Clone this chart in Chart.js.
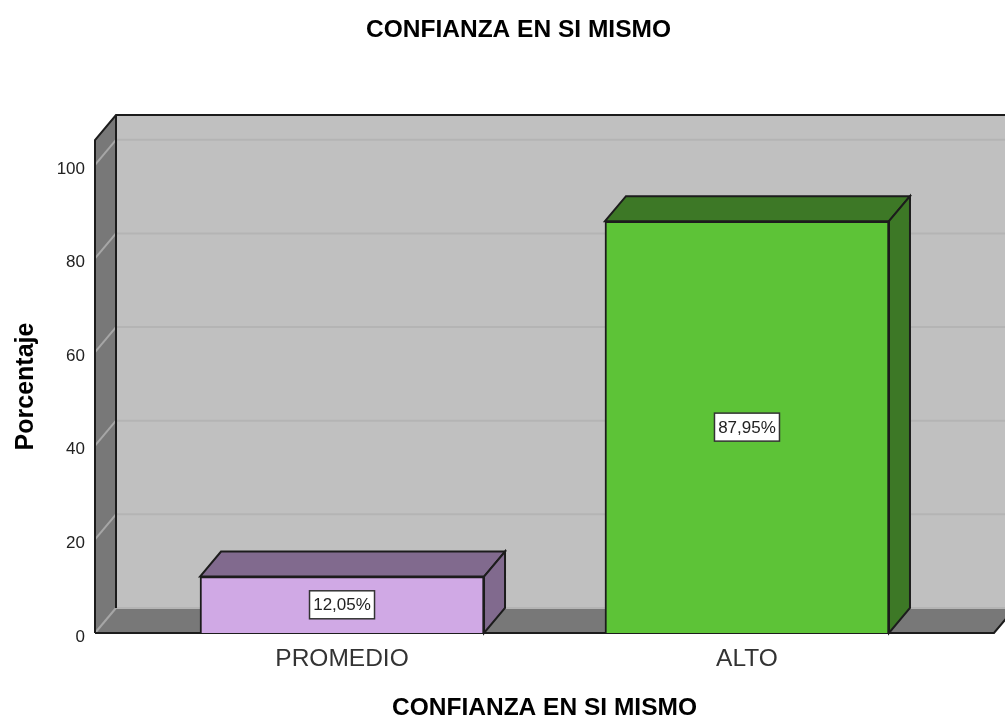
<!DOCTYPE html>
<html>
<head>
<meta charset="utf-8">
<style>
    html, body { margin: 0; padding: 0; background: #fff; overflow: hidden; }
    canvas { display: block; }
</style>
<script src="https://cdn.jsdelivr.net/npm/chart.js@4"></script>
</head>
<body>
<canvas id="grafico" width="1005" height="720"></canvas>
<script>
/* Dados */
const categorias = ['PROMEDIO', 'ALTO'];
const porcentajes = [12.05, 87.95];
const rotulos = ['12,05%', '87,95%'];
const coresFrente = ['#D0A9E5', '#5DC337'];
const coresFundo = ['#816A8E', '#3D7826'];
const tituloTexto = 'CONFIANZA EN SI MISMO';
const tituloY = 'Porcentaje';

/* Profundidade do efeito 3D, em pixels */
const DX = 21;
const DY = 25;
const LINHA = '#1c1c1c';
const FONTE = '"Liberation Sans", Arial, sans-serif';

function poligono(ctx, pts, fill) {
    ctx.beginPath();
    pts.forEach((p, i) => i ? ctx.lineTo(p[0], p[1]) : ctx.moveTo(p[0], p[1]));
    ctx.closePath();
    if (fill) {
        ctx.fillStyle = fill;
        ctx.fill();
    }
}

const caixa3d = {
    id: 'caixa3d',
    afterLayout(chart) {
        // o título do original não fica centrado na página
        chart.titleBlock.left = 32;
        chart.titleBlock.right = chart.width;
    },
    beforeDatasetsDraw(chart) {
        const { ctx } = chart;
        const { x, y } = chart.scales;
        const l = x.left, r = x.right, t = y.top, b = y.bottom;
        ctx.save();

        /* paredes e chão */
        poligono(ctx, [[l + DX, t - DY], [r + DX, t - DY], [r + DX, b - DY], [l + DX, b - DY]], '#C0C0C0');
        poligono(ctx, [[l, t], [l + DX, t - DY], [l + DX, b - DY], [l, b]], '#787878');
        poligono(ctx, [[l, b], [l + DX, b - DY], [r + DX, b - DY], [r, b]], '#787878');

        /* grade */
        ctx.lineWidth = 2;
        y.ticks.forEach(tk => {
            const py = y.getPixelForValue(tk.value);
            ctx.strokeStyle = '#B4B4B4';
            ctx.beginPath();
            ctx.moveTo(l + DX, py - DY);
            ctx.lineTo(r + DX, py - DY);
            ctx.stroke();
            ctx.strokeStyle = '#A6A6A6';
            ctx.beginPath();
            ctx.moveTo(l, py);
            ctx.lineTo(l + DX, py - DY);
            ctx.stroke();
        });

        /* contornos */
        ctx.strokeStyle = LINHA;
        ctx.beginPath();
        ctx.moveTo(l, b);
        ctx.lineTo(l, t);
        ctx.lineTo(l + DX, t - DY);
        ctx.lineTo(r + DX, t - DY);
        ctx.moveTo(l + DX, t - DY);
        ctx.lineTo(l + DX, b - DY);
        ctx.moveTo(l, b);
        ctx.lineTo(r, b);
        ctx.lineTo(r + DX, b - DY);
        ctx.stroke();

        /* faces de cima e do lado das barras */
        const meta = chart.getDatasetMeta(0);
        meta.data.forEach((bar, i) => {
            const e = bar.x - bar.width / 2, d = bar.x + bar.width / 2;
            ctx.strokeStyle = LINHA;
            poligono(ctx, [[e, bar.y], [e + DX, bar.y - DY], [d + DX, bar.y - DY], [d, bar.y]], coresFundo[i]);
            ctx.stroke();
            poligono(ctx, [[d, bar.y], [d + DX, bar.y - DY], [d + DX, bar.base - DY], [d, bar.base]], coresFundo[i]);
            ctx.stroke();
        });
        ctx.restore();
    },
    afterDatasetsDraw(chart) {
        const { ctx } = chart;
        const meta = chart.getDatasetMeta(0);
        ctx.save();
        ctx.font = '17px ' + FONTE;
        ctx.textAlign = 'center';
        ctx.textBaseline = 'middle';
        meta.data.forEach((bar, i) => {
            const cy = (bar.y + bar.base) / 2;
            const w = 65, h = 28;
            ctx.fillStyle = '#fff';
            ctx.fillRect(bar.x - w / 2, cy - h / 2, w, h);
            ctx.strokeStyle = '#333';
            ctx.lineWidth = 1.5;
            ctx.strokeRect(bar.x - w / 2, cy - h / 2, w, h);
            ctx.fillStyle = '#222';
            ctx.fillText(rotulos[i], bar.x, cy + 1);
        });
        ctx.restore();
    }
};

new Chart(document.getElementById('grafico').getContext('2d'), {
    type: 'bar',
    data: {
        datasets: [{
            data: categorias.map((c, i) => ({ x: i, y: porcentajes[i] })),
            backgroundColor: coresFrente,
            borderColor: LINHA,
            borderWidth: 2,
            barThickness: 284
        }]
    },
    options: {
        responsive: false,
        animation: false,
        layout: { padding: { right: 11 } },
        plugins: {
            legend: { display: false },
            tooltip: { enabled: false },
            title: {
                display: true,
                text: tituloTexto,
                color: '#000',
                font: { family: FONTE, size: 24.5, weight: 'bold', lineHeight: 1 },
                padding: { top: 18, bottom: 97.5 }
            }
        },
        scales: {
            x: {
                type: 'linear',
                offset: false,
                min: -0.61,
                max: 1.61,
                grid: { display: false, drawTicks: false },
                border: { display: false },
                afterFit: axis => { axis.height = 87; },
                afterBuildTicks: axis => { axis.ticks = categorias.map((c, i) => ({ value: i })); },
                ticks: {
                    autoSkip: false,
                    maxRotation: 0,
                    padding: 12,
                    color: '#333',
                    font: { family: FONTE, size: 24.5 },
                    callback: v => categorias[v]
                },
                title: {
                    display: true,
                    text: tituloTexto,
                    color: '#000',
                    font: { family: FONTE, size: 24.5, weight: 'bold', lineHeight: 0.92 },
                    padding: { top: 0, bottom: 0 }
                }
            },
            y: {
                min: 0,
                max: 105.3,
                grid: { display: false, drawTicks: false },
                border: { display: false },
                afterFit: axis => { axis.width = 95; },
                ticks: {
                    stepSize: 20,
                    includeBounds: false,
                    padding: 10,
                    labelOffset: 4,
                    color: '#222',
                    font: { family: FONTE, size: 17 }
                },
                title: {
                    display: true,
                    text: tituloY,
                    color: '#000',
                    font: { family: FONTE, size: 25, weight: 'bold', lineHeight: 1 },
                    padding: { top: 14, bottom: 0 }
                }
            }
        }
    },
    plugins: [caixa3d]
});
</script>
</body>
</html>
